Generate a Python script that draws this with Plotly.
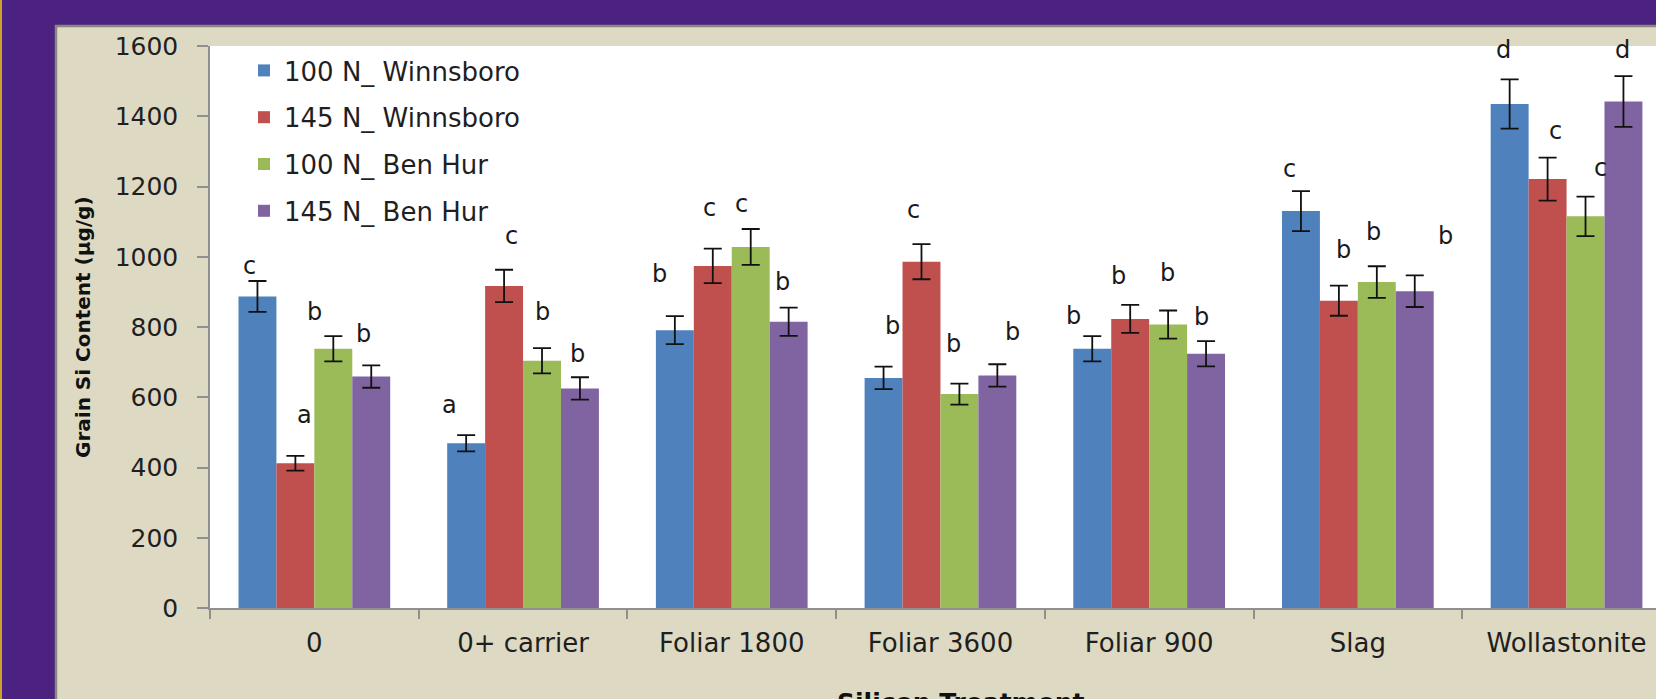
import plotly.graph_objects as go

# ---------------- data ----------------
categories = ["0", "0+ carrier", "Foliar 1800", "Foliar 3600", "Foliar 900", "Slag", "Wollastonite"]
series_names = ["100 N_ Winnsboro", "145 N_ Winnsboro", "100 N_ Ben Hur", "145 N_ Ben Hur"]

w100 = [887, 469, 791, 655, 738, 1130, 1435]
w145 = [412, 917, 974, 986, 823, 875, 1221]
b100 = [738, 704, 1028, 609, 807, 928, 1115]
b145 = [659, 625, 815, 662, 724, 902, 1442]

w100_err = [44, 23, 40, 32, 36, 57, 70]
w145_err = [21, 46, 49, 50, 40, 43, 61]
b100_err = [36, 36, 51, 30, 40, 45, 56]
b145_err = [32, 32, 40, 32, 36, 45, 72]

w100_letters = ["c", "a", "b", "b", "b", "c", "d"]
w145_letters = ["a", "c", "c", "c", "b", "b", "c"]
b100_letters = ["b", "b", "c", "b", "b", "b", "c"]
b145_letters = ["b", "b", "b", "b", "b", "b", "d"]

y_ticks = [0, 200, 400, 600, 800, 1000, 1200, 1400, 1600]

# ---------------- style ----------------
colors = ["#4F81BD", "#C0504D", "#9BBB59", "#8064A2"]
FONT = "DejaVu Sans"
W, H = 1656, 699
ML, MR, MT, MB = 210, 0, 46, 91
BARGAP = 0.273
X_RANGE = [-0.5, 6.4286]

# label placement (pixel nudges: dx, height above error-bar top)
label_nudges = [
    [(-8, 15), (-17, 30), (-15, 42), (9, 41), (-19, 20), (-11, 22), (-6, 29)],
    [(9, 41), (7, 34), (-3, 41), (-8, 34), (-12, 29), (5, 36), (8, 27)],
    [(-19, 24), (0, 36), (-9, 25), (-6, 40), (-1, 37), (-3, 34), (15, 29)],
    [(-8, 31), (-2, 23), (-6, 26), (15, 32), (-5, 24), (31, 39), (-1, 26)],
]

values = [w100, w145, b100, b145]
errors = [w100_err, w145_err, b100_err, b145_err]
letters = [w100_letters, w145_letters, b100_letters, b145_letters]

fig = go.Figure()
for k in range(4):
    fig.add_trace(go.Bar(
        x=categories, y=values[k], name=series_names[k],
        marker=dict(color=colors[k], line=dict(width=0)),
        error_y=dict(type="data", array=errors[k], visible=True,
                     color="#111111", thickness=1.8, width=9),
        legendgroup=series_names[k],
    ))

plot_w = W - ML - MR
px_per_cat = plot_w / (X_RANGE[1] - X_RANGE[0])
bar_w_px = px_per_cat * (1 - BARGAP) / 4

annotations = []
for k in range(4):
    for i, cat in enumerate(categories):
        dx, dy = label_nudges[k][i]
        annotations.append(dict(
            x=cat, y=values[k][i] + errors[k][i], xref="x", yref="y",
            text=letters[k][i], showarrow=False,
            xshift=(k - 1.5) * bar_w_px + dx, yshift=dy,
            xanchor="center", yanchor="middle",
            font=dict(family=FONT, size=24, color="#1a1a1a"),
        ))

plot_h = H - MT - MB
def px_x(p):
    return (p - ML) / plot_w
def px_y(p):
    return (H - MB - p) / plot_h

# axis titles
annotations.append(dict(
    x=px_x(960), y=px_y(686), xref="paper", yref="paper",
    text="<b>Silicon Treatment</b>", showarrow=False,
    xanchor="center", yanchor="top",
    font=dict(family=FONT, size=25, color="#111111"),
))
annotations.append(dict(
    x=px_x(83), y=0.5, xref="paper", yref="paper",
    text="<b>Grain Si Content (µg/g)</b>", showarrow=False, textangle=-90,
    xanchor="center", yanchor="middle",
    font=dict(family=FONT, size=20, color="#111111"),
))

shapes = [
    # beige chart panel
    dict(type="rect", xref="paper", yref="paper",
         x0=px_x(56), x1=1.2, y0=-0.4, y1=px_y(26),
         fillcolor="#DDD9C3", line=dict(color="#8a877f", width=2.5), layer="below"),
    # white plot area
    dict(type="rect", xref="paper", yref="paper",
         x0=0, x1=1.1, y0=0, y1=1,
         fillcolor="#FFFFFF", line=dict(width=0), layer="below"),
    # thin yellow slide edge
    dict(type="line", xref="paper", yref="paper",
         x0=px_x(1), x1=px_x(1), y0=-0.5, y1=1.5,
         line=dict(color="#c9a227", width=2), layer="below"),
]

fig.update_layout(
    width=W, height=H, autosize=False,
    margin=dict(l=ML, r=MR, t=MT, b=MB, pad=0),
    paper_bgcolor="#4b2280", plot_bgcolor="rgba(0,0,0,0)",
    barmode="group", bargap=BARGAP, bargroupgap=0,
    font=dict(family=FONT, color="#1f1f1f"),
    showlegend=True,
    legend=dict(x=px_x(244), y=px_y(47), xanchor="left", yanchor="top",
                bgcolor="rgba(0,0,0,0)", borderwidth=0,
                font=dict(family=FONT, size=26, color="#1f1f1f"),
                tracegroupgap=10, traceorder="grouped"),
    shapes=shapes,
    annotations=annotations,
)

fig.update_xaxes(
    type="category", range=X_RANGE,
    showline=True, linecolor="#8f8f8f", linewidth=1.5,
    ticks="outside", tickson="boundaries", ticklen=9, tickcolor="#8f8f8f", tickwidth=1.5,
    ticklabelstandoff=11,
    showgrid=False, zeroline=False,
    tickfont=dict(family=FONT, size=26, color="#1f1f1f"),
)
fig.update_yaxes(
    range=[0, 1600], tickvals=y_ticks, ticktext=[str(v) for v in y_ticks],
    showline=True, linecolor="#8f8f8f", linewidth=1.5,
    ticks="outside", ticklen=11, tickcolor="#8f8f8f", tickwidth=1.5,
    ticklabelstandoff=14,
    showgrid=False, zeroline=False,
    tickfont=dict(family=FONT, size=25, color="#1f1f1f"),
)

fig.write_html("out.html")
